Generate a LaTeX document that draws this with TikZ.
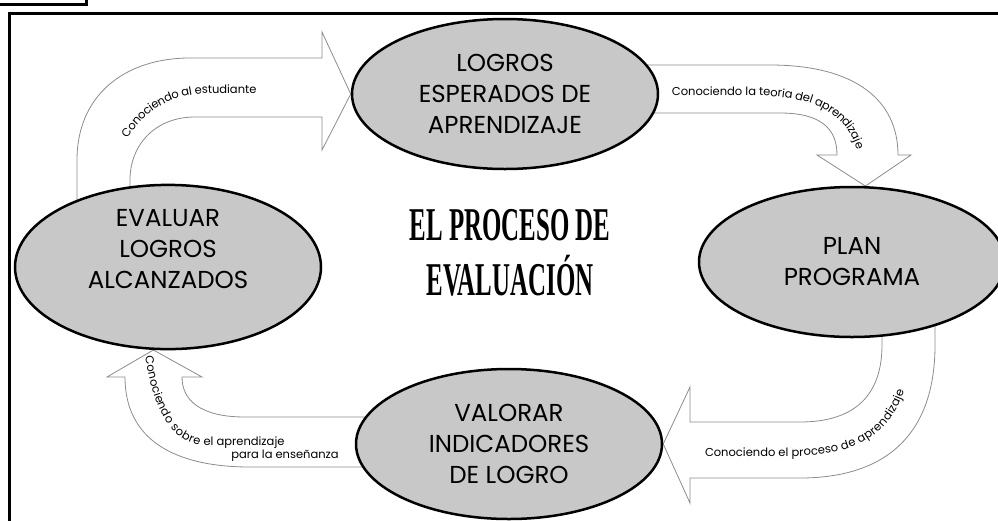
\documentclass[tikz,border=0pt]{standalone}
\usepackage{fontspec}
\setmainfont{Poppins}
\newfontfamily\titulofont{Liberation Serif}
\usetikzlibrary{shapes.geometric,decorations.text,backgrounds,calc}
\definecolor{relleno}{RGB}{200,200,200}
\definecolor{contorno}{RGB}{140,140,140}
\newcommand\rotulo{\fontsize{11.5}{13}\selectfont}

\begin{document}
\begin{tikzpicture}[x=1pt,y=-1pt]
\tikzset{
    etapa/.style={ellipse, draw=black, line width=2.5pt, fill=relleno, minimum width=306pt, minimum height=150pt, inner sep=0pt, align=center, font=\fontsize{24.5}{31}\selectfont},
    flecha/.style={draw=contorno, line width=0.8pt, fill=white},
    leyenda/.style={decorate, decoration={text along path, text align=left, raise=-4pt}}
}
\useasboundingbox (0,0) rectangle (998,520);
% marco
\draw[line width=3pt] (0,4) -- (86,4) -- (86,0);
\draw[line width=3pt] (9,530) -- (9,13) -- (1010,13);
% etapas del ciclo
\node[etapa] (logros) at (505,94) {LOGROS\\ESPERADOS DE\\APRENDIZAJE};
\node[etapa] (evaluar) at (168,267) {EVALUAR\\LOGROS\\ALCANZADOS\\[6pt]};
\node[etapa] (plan) at (852,262) {PLAN\\PROGRAMA};
\node[etapa] (valorar) at (509,444) {VALORAR\\INDICADORES\\DE LOGRO};
\node[inner sep=0pt, font=\titulofont\bfseries\fontsize{47}{50}\selectfont] (titulo) at (510,258)
    {\scalebox{0.53}[1]{\begin{tabular}{@{}c@{}}EL PROCESO DE\\EVALUACIÓN\end{tabular}}};
% flechas huecas
\begin{pgfonlayer}{background}
\draw[flecha] ($(evaluar.center)+(-91,-40)$) -- (77,160) .. controls (77,95) and (125,58) .. (190,58)
    -- (322,58) -- (322,32) -- (logros.west) -- (322,150) -- (322,117) -- (195,117)
    .. controls (155,117) and (130,145) .. (130,180) -- ($(evaluar.center)+(-38,-40)$) -- cycle;
\draw[flecha] ($(logros.center)+(135,-29)$) -- (770,65) .. controls (855,65) and (898,100) .. (898,155)
    -- (911,155) -- (plan.80) -- (817,155) -- (837,155)
    .. controls (837,128) and (820,113) .. (780,113) -- ($(logros.center)+(135,19)$) -- cycle;
\draw[flecha] ($(plan.center)+(83,30)$) -- (935,345) .. controls (935,440) and (880,478) .. (800,478)
    -- (690,478) -- (690,503) -- (valorar.east) -- (690,387) -- (690,422) -- (800,422)
    .. controls (855,422) and (882,395) .. (882,345) -- ($(plan.center)+(30,30)$) -- cycle;
\draw[flecha] ($(valorar.center)+(-135,-27)$) -- (245,417) .. controls (200,417) and (182,400) .. (182,377)
    -- (202,377) -- (evaluar.260) -- (107,377) -- (125,377)
    .. controls (125,440) and (175,467) .. (250,467) -- ($(valorar.center)+(-135,23)$) -- cycle;
\end{pgfonlayer}
% leyendas
\path[leyenda, decoration={text={|\rotulo|Conociendo al estudiante}}]
    (124,136) .. controls (145,105) and (170,90) .. (212,89) -- (330,89);
\path[leyenda, decoration={text={|\rotulo|Conociendo la teoria del aprendizaje}}]
    (672,91) -- (765,92) .. controls (832,95) and (866,120) .. (866,190);
\path[leyenda, decoration={text={|\rotulo|Conociendo el proceso de aprendizaje}}]
    (705,452) -- (800,452) .. controls (868,450) and (907,420) .. (907,340);
\path[leyenda, decoration={text={|\rotulo|Conociendo sobre el aprendizaje}}]
    (149,356) .. controls (156,400) and (170,436) .. (200,441) -- (340,441);
\node[font=\rotulo] (ensenanza) at (285,456) {para la enseñanza};
\end{tikzpicture}
\end{document}
